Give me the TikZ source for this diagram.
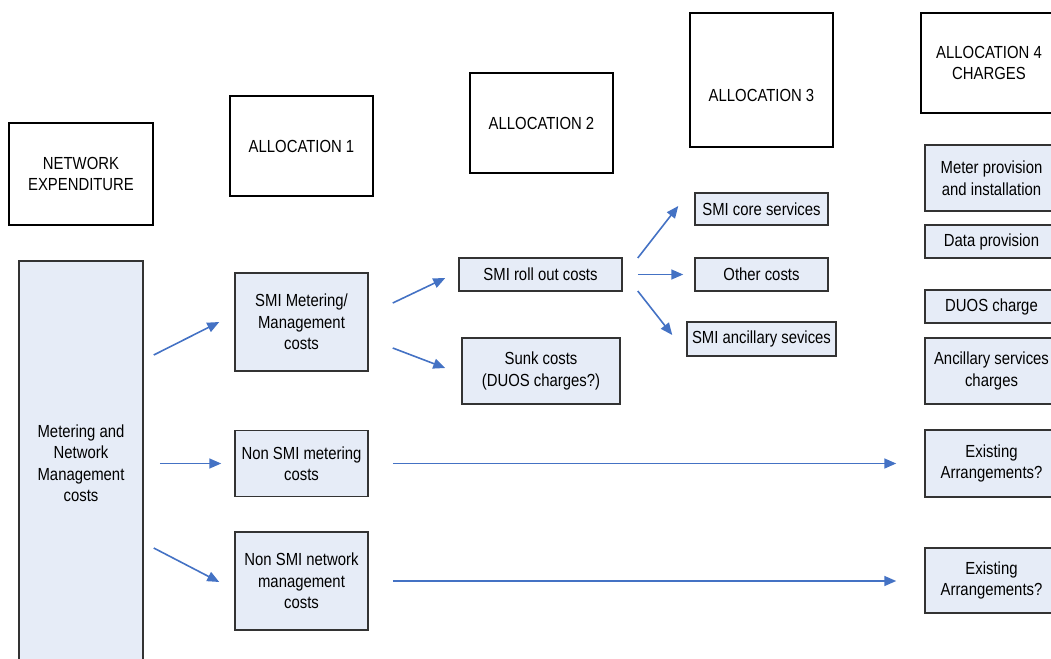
\documentclass[tikz,border=0pt]{standalone}
\usepackage{fontspec}
\setmainfont{Liberation Sans}[FakeStretch=0.85]
\usetikzlibrary{arrows.meta,calc}
\definecolor{boxfill}{HTML}{E6ECF7}
\definecolor{boxline}{HTML}{333333}
\definecolor{flowblue}{HTML}{4472C4}

\begin{document}
\begin{tikzpicture}[x=1pt, y=-1pt, font=\fontsize{17.5}{21.5}\selectfont,
		head/.style={draw=black, line width=1.3pt, fill=white, align=center, inner sep=0pt},
		cell/.style={draw=boxline, line width=1.5pt, fill=boxfill, align=center, inner sep=0pt},
		flow/.style={draw=flowblue, line width=1.6pt, -{Triangle[length=12pt,width=10pt]}}]
			\useasboundingbox (0,0) rectangle (1051,658);
			\clip (0,0) rectangle (1051,658);
			% headings
			\node[head, minimum width=144, minimum height=102] (netexp) at (81,174) {NETWORK\\EXPENDITURE};
			\node[head, minimum width=143, minimum height=100] (alloc1) at (301.5,146) {ALLOCATION 1};
			\node[head, minimum width=143, minimum height=100] (alloc2) at (541.5,123) {ALLOCATION 2};
			\node[head, minimum width=143, text height=89pt, text depth=45pt] (alloc3) at (761.5,80) {ALLOCATION 3};
			\node[head, minimum width=136, minimum height=100] (alloc4) at (989,63) {ALLOCATION 4\\CHARGES};
			% cost boxes
			\node[cell, minimum width=124, minimum height=404] (mnm) at (81,463) {Metering and\\Network\\Management\\costs};
			\node[cell, minimum width=133, minimum height=98] (smim) at (301.5,322) {SMI Metering/\\Management\\costs};
			\node[cell, minimum width=133, minimum height=66] (nsmim) at (301.5,463.5) {Non SMI metering\\costs};
			\node[cell, minimum width=133, minimum height=98] (nsmin) at (301.5,581) {Non SMI network\\management\\costs};
			\node[cell, minimum width=163, minimum height=33] (rollout) at (540.5,274.5) {SMI roll out costs};
			\node[cell, minimum width=158, minimum height=66] (sunk) at (541,371) {Sunk costs\\(DUOS charges?)};
			\node[cell, minimum width=133, minimum height=32] (core) at (761.5,209) {SMI core services};
			\node[cell, minimum width=133, minimum height=33] (other) at (761.5,274.5) {Other costs};
			\node[cell, minimum width=149, minimum height=34] (ancil) at (761.5,339) {SMI ancillary sevices};
			\foreach \n/\y/\h/\t in {meterprov/178/66/{Meter provision\\and installation}, dataprov/241.5/33/{Data provision},
					duos/306.5/33/{DUOS charge}, ancchg/371/66/{Ancillary services\\charges},
					exist1/463.5/67/{Existing\\Arrangements?}, exist2/580.5/65/{Existing\\Arrangements?}}
				\node[cell, minimum width=133, minimum height=\h] (\n) at (991.5,\y) {\t};
			% flows
			\draw[flow] ($(mnm.east)+(10,-108)$) -- ($(smim.west)+(-15,0)$);
			\draw[flow, shorten <=16pt, shorten >=13pt] (mnm.east |- nsmim.west) -- (nsmim.west);
			\draw[flow] ($(mnm.east)+(10,85)$) -- ($(nsmin.west)+(-15,1)$);
			\draw[flow] ($(smim.east)+(24,-19)$) -- ($(rollout.west)+(-13,3.5)$);
			\draw[flow] ($(smim.east)+(24,26)$) -- ($(sunk.west)+(-16,-3)$);
			\draw[flow] ($(rollout.east)+(15,-16.5)$) -- ($(core.west)+(-16,-3)$);
			\draw[flow, shorten <=15pt, shorten >=11pt] (rollout.east) -- (other.west);
			\draw[flow] ($(rollout.east)+(15,16.5)$) -- ($(ancil.west)+(-14,-4)$);
			\draw[flow, shorten <=24pt, shorten >=28pt] (nsmim.east) -- (nsmim.east -| exist1.west);
			\draw[flow, shorten <=24pt, shorten >=28pt] (nsmin.east) -- (nsmin.east -| exist2.west);
		\end{tikzpicture}
\end{document}
